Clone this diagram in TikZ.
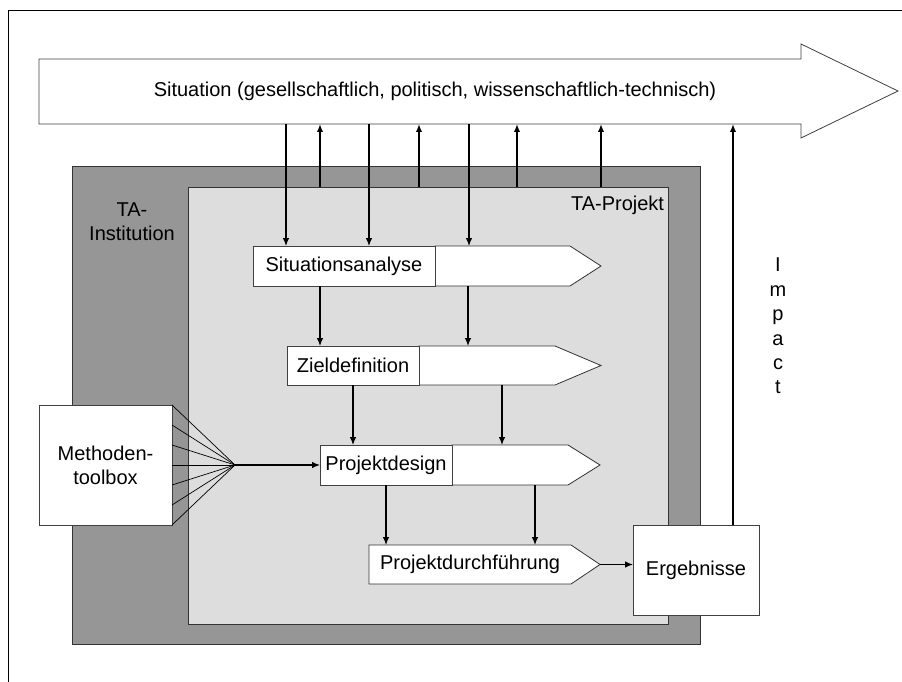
\documentclass[tikz,border=0pt]{standalone}
\usepackage{fontspec}
\setmainfont{Liberation Sans}
\usetikzlibrary{arrows.meta,calc}
\definecolor{instgray}{HTML}{969696}
\definecolor{projgray}{HTML}{DDDDDD}
\tikzset{
  conn/.style={-{Latex[length=8pt,width=6.5pt]}, line width=1.1pt},
  upconn/.style={-{Latex[length=8pt,width=6.5pt]}, line width=2.8pt},
  boxst/.style={draw=black!75, fill=white, line width=0.8pt, inner sep=0pt, outer sep=0pt},
  pentst/.style={draw=black!80, fill=white, line width=0.8pt},
  anch/.style={inner sep=0pt, outer sep=0pt, anchor=north west},
  txt/.style={inner sep=0pt, outer sep=0pt},
}
\begin{document}
\begin{tikzpicture}[x=1pt,y=-1pt,font=\fontsize{20}{24}\selectfont]
\useasboundingbox (0,0) rectangle (902,682);
% frame
\draw[line width=1pt] (8,682) -- (8,11) -- (902,11);
% big arrow
\draw[draw=black!75, fill=white, line width=0.8pt] (39,59) -- (801,59) -- (801,44) -- (898,91) -- (801,138) -- (801,124) -- (39,124) -- cycle;
\node[anch, minimum width=762, minimum height=65] (situ) at (39,59) {};
\node[txt] (situtext) at (435,91) {Situation (gesellschaftlich, politisch, wissenschaftlich-technisch)};
% institution and project
\node[anch, draw=black!80, fill=instgray, line width=0.8pt, minimum width=628, minimum height=478] (inst) at (72,166) {};
\node[txt, align=center] (instlab) at (132,222) {TA-\\Institution};
\node[anch, draw=black!80, fill=projgray, line width=0.8pt, minimum width=480, minimum height=437] (proj) at (188,187) {};
\node[txt, anchor=east] (projlab) at (664,205) {TA-Projekt};
% Situationsanalyse
\draw[pentst] (435,246) -- (570,246) -- (601,266) -- (570,286) -- (435,286) -- cycle;
\node[anch, minimum width=166, minimum height=40] (sap) at (435,246) {};
\node[boxst, anchor=north west, minimum width=182, minimum height=40] (sa) at (253,246) {Situationsanalyse};
% Zieldefinition
\draw[pentst] (419,346) -- (555,346) -- (601,365.5) -- (555,385) -- (419,385) -- cycle;
\node[anch, minimum width=182, minimum height=39] (zdp) at (419,346) {};
\node[boxst, anchor=north west, minimum width=132, minimum height=39] (zd) at (287,346) {Zieldefinition};
% Projektdesign
\draw[pentst] (452,445) -- (568,445) -- (600,465) -- (568,485) -- (452,485) -- cycle;
\node[anch, minimum width=148, minimum height=40] (pdp) at (452,445) {};
\node[boxst, anchor=north west, minimum width=132, minimum height=40] (pd) at (320,445) {Projektdesign};
% Projektdurchfuehrung
\draw[pentst] (369,545) -- (571,545) -- (600,564.5) -- (571,584) -- (369,584) -- cycle;
\node[anch, minimum width=231, minimum height=39, inner xsep=11pt, text width=209pt, align=left] (pdf) at (369,545) {Projektdurchführung};
% Ergebnisse
\node[boxst, anchor=north west, minimum width=126, minimum height=90] (erg) at (633,525) {Ergebnisse};
% Methodentoolbox
\node[boxst, anchor=north west, minimum width=133, minimum height=120, align=center] (mt) at (39,405) {Methoden-\\toolbox};
\coordinate (fan) at (235,465);
\foreach \i in {0,...,6}
  \draw[line width=0.7pt] ($(mt.north east)!\i/6!(mt.south east)$) -- (fan);
\draw[conn] (fan) -- (pd.west);
% x positions
\coordinate (d1) at (286,0);
\coordinate (d2) at (369,0);
\coordinate (d3) at (469,0);
\coordinate (u1) at (320,0);
\coordinate (u2) at (419,0);
\coordinate (u3) at (517,0);
\coordinate (u4) at (601,0);
\coordinate (a1) at (320,0);
\coordinate (a2) at (468,0);
\coordinate (b1) at (353,0);
\coordinate (b2) at (502,0);
\coordinate (c1) at (386,0);
\coordinate (c2) at (535,0);
\coordinate (imp) at (733,0);
% connectors
\draw[conn] (situ.south -| d1) -- (sa.north -| d1);
\draw[conn] (situ.south -| d2) -- (sa.north -| d2);
\draw[conn] (situ.south -| d3) -- (sap.north -| d3);
\foreach \u in {u1,u2,u3,u4}
  \draw[upconn] (proj.north -| \u) -- (situ.south -| \u);
\draw[conn] (sa.south -| a1) -- (zd.north -| a1);
\draw[conn] (sap.south -| a2) -- (zdp.north -| a2);
\draw[conn] (zd.south -| b1) -- (pd.north -| b1);
\draw[conn] (zdp.south -| b2) -- (pdp.north -| b2);
\draw[conn] (pd.south -| c1) -- (pdf.north -| c1);
\draw[conn] (pdp.south -| c2) -- (pdf.north -| c2);
\draw[conn] (pdf.east) -- (erg.west |- pdf.east);
\draw[upconn] (erg.north -| imp) -- (situ.south -| imp);
% Impact label
\node[txt, align=center, font=\fontsize{20}{24.4}\selectfont] (impact) at (778,326) {I\\m\\p\\a\\c\\t};
\end{tikzpicture}
\end{document}
